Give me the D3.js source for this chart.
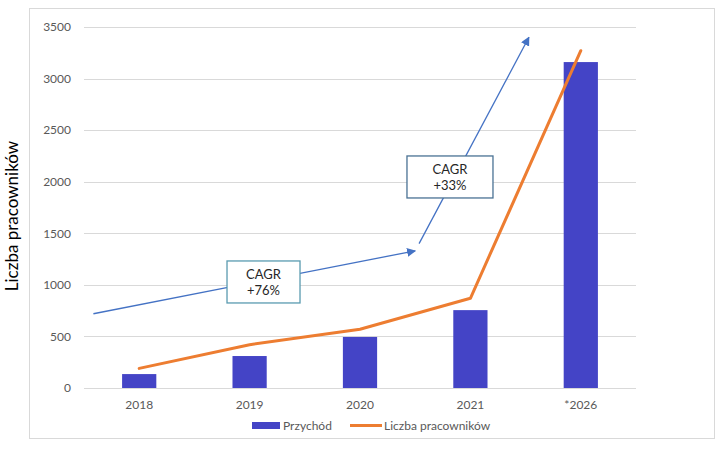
<!DOCTYPE html>
<html><head><meta charset="utf-8">
<script src="https://cdn.jsdelivr.net/npm/d3@7"></script>
<style>body{margin:0;background:#fff}svg{display:block}</style>
</head><body>
<svg id="c" width="720" height="450"></svg>
<script>
const categories = ["2018", "2019", "2020", "2021", "*2026"];
const revenue = [135, 310, 495, 755, 3160];
const employees = [190, 420, 570, 870, 3270];
const yTicks = [0, 500, 1000, 1500, 2000, 2500, 3000, 3500];
const seriesNames = ["Przychód", "Liczba pracowników"];
const yTitle = "Liczba pracowników";
const cagrLabels = [["CAGR", "+76%"], ["CAGR", "+33%"]];

(function () {
const font = "Lato, 'Open Sans', sans-serif";
const svg = d3.select("#c");
const mLeft = 84, mRight = 636, mTop = 27, mBottom = 388;

svg.append("rect").attr("x", 29.5).attr("y", 8.5).attr("width", 685).attr("height", 430)
  .attr("fill", "#fff").attr("stroke", "#d9d9d9");

const x = d3.scaleBand().domain(categories).range([mLeft, mRight]).paddingInner(0.69).paddingOuter(0.345);
const y = d3.scaleLinear().domain([0, 3500]).range([mBottom, mTop]);

// grid
svg.append("g").selectAll("line").data(yTicks).join("line")
  .attr("x1", mLeft).attr("x2", mRight)
  .attr("y1", d => Math.round(y(d)) + 0.5).attr("y2", d => Math.round(y(d)) + 0.5)
  .attr("stroke", "#d9d9d9").attr("stroke-width", 1);

// y axis
const ya = svg.append("g").attr("transform", `translate(${mLeft},0)`)
  .call(d3.axisLeft(y).tickValues(yTicks).tickFormat(d3.format("d")).tickSize(0).tickPadding(13));
ya.select(".domain").remove();
ya.selectAll("text").attr("font-family", font).attr("font-size", 12).attr("fill", "#595959");

// x axis
const xa = svg.append("g").attr("transform", `translate(0,${mBottom})`)
  .call(d3.axisBottom(x).tickSize(0).tickPadding(12));
xa.select(".domain").remove();
xa.selectAll("text").attr("font-family", font).attr("font-size", 12).attr("fill", "#595959");

// bars
svg.append("g").selectAll("rect").data(revenue).join("rect")
  .attr("x", (d, i) => x(categories[i])).attr("width", x.bandwidth())
  .attr("y", d => y(d)).attr("height", d => y(0) - y(d))
  .attr("fill", "#4444c6");

// line
const line = d3.line().x((d, i) => x(categories[i]) + x.bandwidth() / 2).y(d => y(d));
svg.append("path").datum(employees).attr("d", line)
  .attr("fill", "none").attr("stroke", "#ed7d31").attr("stroke-width", 3).attr("stroke-linecap", "round").attr("stroke-linejoin", "round");

// arrows
const defs = svg.append("defs");
defs.append("marker").attr("id", "ah").attr("viewBox", "0 0 10 10").attr("refX", 9).attr("refY", 5)
  .attr("markerWidth", 9).attr("markerHeight", 9).attr("markerUnits", "userSpaceOnUse").attr("orient", "auto")
  .append("path").attr("d", "M0,0 L10,5 L0,10 Z").attr("fill", "#4472c4");

const xPos = d3.scaleLinear().domain([0, categories.length - 1])
  .range([x(categories[0]) + x.bandwidth() / 2, x(categories[categories.length - 1]) + x.bandwidth() / 2]);
const arrows = [
  {x1: -0.415, v1: 720, x2: 2.5, v2: 1330},
  {x1: 2.535, v1: 1400, x2: 3.53, v2: 3400}
];
svg.append("g").selectAll("line").data(arrows).join("line")
  .attr("x1", d => xPos(d.x1)).attr("y1", d => y(d.v1))
  .attr("x2", d => xPos(d.x2)).attr("y2", d => y(d.v2))
  .attr("stroke", "#4472c4").attr("stroke-width", 1.3).attr("marker-end", "url(#ah)");

// CAGR boxes
const boxes = [
  {cx: 1.126, cv: 1028, w: 73, h: 42, stroke: "#5a9bb0"},
  {cx: 2.815, cv: 2046, w: 86, h: 42, stroke: "#4a7294"}
];
boxes.forEach((b, i) => {
  const cx = xPos(b.cx), cy = y(b.cv);
  svg.append("rect").attr("x", cx - b.w / 2).attr("y", cy - b.h / 2).attr("width", b.w).attr("height", b.h)
    .attr("fill", "#fff").attr("stroke", b.stroke).attr("stroke-width", 1.3);
  cagrLabels[i].forEach((t, j) => {
    svg.append("text").attr("x", cx).attr("y", cy - 3 + j * 16).attr("text-anchor", "middle")
      .attr("font-family", font).attr("font-size", 13).attr("fill", "#262626").text(t);
  });
});

// y title
svg.append("text").attr("transform", "translate(18,216) rotate(-90)").attr("text-anchor", "middle")
  .attr("font-family", font).attr("font-size", 17).attr("fill", "#000").text(yTitle);

// legend
const lg = svg.append("g");
lg.append("rect").attr("x", 252).attr("y", 422).attr("width", 28).attr("height", 7).attr("fill", "#4444c6");
lg.append("text").attr("x", 283).attr("y", 430).attr("font-family", font).attr("font-size", 12).attr("fill", "#595959").text(seriesNames[0]);
lg.append("line").attr("x1", 350).attr("x2", 382).attr("y1", 425.5).attr("y2", 425.5).attr("stroke", "#ed7d31").attr("stroke-width", 3);
lg.append("text").attr("x", 384).attr("y", 430).attr("font-family", font).attr("font-size", 12).attr("fill", "#595959").text(seriesNames[1]);
})();
</script>
</body></html>
